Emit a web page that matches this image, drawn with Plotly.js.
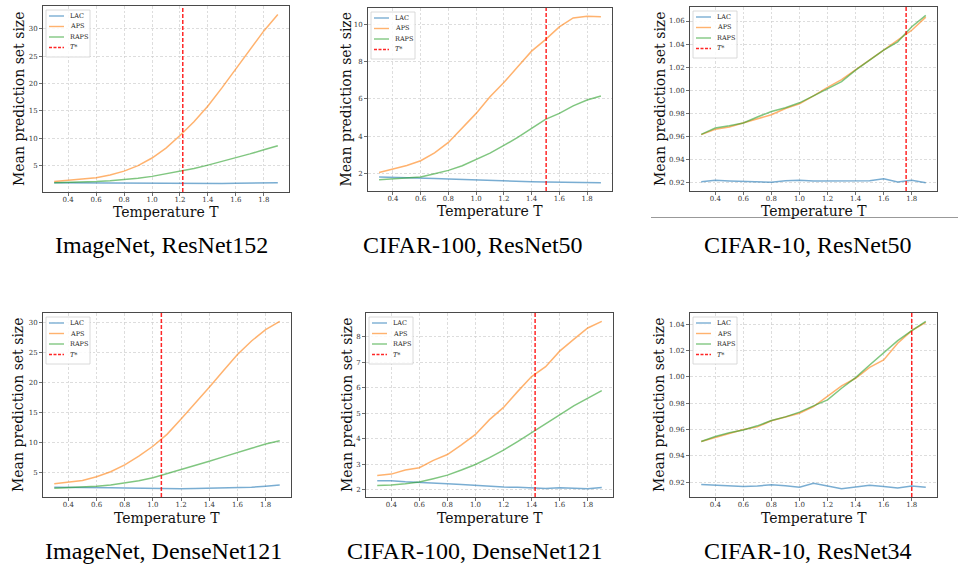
<!DOCTYPE html>
<html><head><meta charset="utf-8">
<script src="https://cdn.plot.ly/plotly-3.0.1.min.js"></script>
<style>html,body{margin:0;padding:0;background:#fff}#chart{width:958px;height:566px}</style>
</head><body><div id="chart"></div>
<script>
// ---------- data ----------
const temperature = [0.3,0.4,0.5,0.6,0.7,0.8,0.9,1.0,1.1,1.2,1.3,1.4,1.5,1.6,1.7,1.8,1.9];
const methodNames = ['LAC','APS','RAPS'];
const tStarLabel = 'T*';
const panelCaptions = ['ImageNet, ResNet152','CIFAR-100, ResNet50','CIFAR-10, ResNet50',
                       'ImageNet, DenseNet121','CIFAR-100, DenseNet121','CIFAR-10, ResNet34'];
const xTickVals = [0.4,0.6,0.8,1.0,1.2,1.4,1.6,1.8];

const lacImageNetResNet152  = [1.90,1.88,1.86,1.84,1.82,1.80,1.78,1.76,1.75,1.74,1.74,1.75,1.76,1.78,1.80,1.83,1.87];
const apsImageNetResNet152  = [2.1,2.3,2.5,2.8,3.3,4.0,5.0,6.4,8.2,10.5,13.0,15.9,19.2,22.7,26.2,29.6,32.6];
const rapsImageNetResNet152 = [1.9,1.95,2.0,2.1,2.25,2.45,2.7,3.05,3.5,3.95,4.5,5.1,5.75,6.45,7.15,7.9,8.65];

const lacCifar100ResNet50  = [1.80,1.79,1.78,1.76,1.73,1.70,1.67,1.64,1.62,1.61,1.56,1.55,1.54,1.53,1.52,1.51,1.50];
const apsCifar100ResNet50  = [2.05,2.22,2.42,2.68,3.10,3.66,4.42,5.22,6.11,6.88,7.72,8.56,9.18,9.86,10.34,10.43,10.41];
const rapsCifar100ResNet50 = [1.66,1.70,1.75,1.80,1.98,2.16,2.41,2.73,3.09,3.50,3.93,4.42,4.90,5.22,5.62,5.94,6.15];

const lacCifar10ResNet50  = [0.9211,0.9223,0.9217,0.9214,0.9206,0.9206,0.9220,0.9223,0.9218,0.9218,0.9218,0.9220,0.9220,0.9237,0.9209,0.9223,0.9203];
const apsCifar10ResNet50  = [0.9618,0.9664,0.9684,0.9718,0.9758,0.9790,0.9844,0.9884,0.9953,1.0027,1.0093,1.0176,1.0262,1.0348,1.0434,1.0520,1.0634];
const rapsCifar10ResNet50 = [0.9620,0.9675,0.9695,0.9718,0.9770,0.9818,0.9850,0.9893,0.9953,1.0013,1.0076,1.0176,1.0262,1.0348,1.0420,1.0551,1.0649];

const lacImageNetDenseNet121  = [2.60,2.60,2.58,2.55,2.50,2.45,2.40,2.38,2.36,2.36,2.38,2.42,2.46,2.52,2.60,2.75,2.95];
const apsImageNetDenseNet121  = [3.18,3.40,3.73,4.34,5.17,6.32,7.76,9.42,11.4,13.94,16.5,19.24,22.0,24.7,26.96,28.84,30.22];
const rapsImageNetDenseNet121 = [2.41,2.48,2.57,2.74,2.96,3.29,3.68,4.17,4.83,5.50,6.21,6.93,7.65,8.42,9.08,9.80,10.35];

const lacCifar100DenseNet121  = [2.35,2.35,2.31,2.29,2.26,2.23,2.20,2.16,2.14,2.10,2.09,2.08,2.05,2.07,2.05,2.04,2.08];
const apsCifar100DenseNet121  = [2.56,2.61,2.77,2.86,3.15,3.38,3.76,4.17,4.75,5.23,5.85,6.44,6.83,7.44,7.90,8.35,8.61];
const rapsCifar100DenseNet121 = [2.16,2.18,2.23,2.30,2.43,2.57,2.77,2.99,3.26,3.55,3.89,4.23,4.58,4.94,5.29,5.58,5.89];

const lacCifar10ResNet34  = [0.9182,0.9177,0.9167,0.9167,0.9170,0.9180,0.9172,0.9160,0.9190,0.9170,0.9150,0.9162,0.9175,0.9167,0.9154,0.9170,0.9160];
const apsCifar10ResNet34  = [0.9509,0.9542,0.9570,0.9600,0.9620,0.9666,0.9694,0.9724,0.9775,0.9851,0.9932,0.9990,1.0073,1.0129,1.0256,1.0352,1.0415];
const rapsCifar10ResNet34 = [0.9509,0.9547,0.9575,0.9597,0.9628,0.9668,0.9696,0.9732,0.9780,0.9825,0.9914,0.9995,1.0091,1.0185,1.0276,1.0352,1.0423];

const tStar = [1.22, 1.505, 1.76, 1.06, 1.425, 1.80];

const panelSeries = [
  [lacImageNetResNet152, apsImageNetResNet152, rapsImageNetResNet152],
  [lacCifar100ResNet50, apsCifar100ResNet50, rapsCifar100ResNet50],
  [lacCifar10ResNet50, apsCifar10ResNet50, rapsCifar10ResNet50],
  [lacImageNetDenseNet121, apsImageNetDenseNet121, rapsImageNetDenseNet121],
  [lacCifar100DenseNet121, apsCifar100DenseNet121, rapsCifar100DenseNet121],
  [lacCifar10ResNet34, apsCifar10ResNet34, rapsCifar10ResNet34]
];

// ---------- layout / style ----------
const W = 958, H = 566;
const boxes = [ // pixel boxes [left,right,top,bottom]
  [43,289,6,192],[368,612,8,191],[690,937,7,191],
  [43,291,313,497],[366,613,313,497],[690,937,313,497]
];
const captionCenters = [[161,245],[473,245],[808,245],[163,551],[475,551],[808,551]];
const yDtick = [5,2,0.02,5,1,0.02];
const yFormat = ['','','.2f','','','.2f'];
const yTitleShift = [-24,-22,-30,-25,-19,-31];
const xTitleShift = [-20,-20,-20,-21,-21,-21];
const colors = ['rgba(31,119,180,0.6)','rgba(255,127,14,0.6)','rgba(44,160,44,0.6)'];
const serif = 'DejaVu Serif, serif';

const traces = [], shapes = [], annotations = [];
const layout = {
  width: W, height: H, margin: {l:0,r:0,t:0,b:0},
  paper_bgcolor: '#fff', plot_bgcolor: '#fff', showlegend: false,
  shapes, annotations
};

function pad(lo, hi){ const d=(hi-lo)*0.05; return [lo-d, hi+d]; }
const xRange = pad(Math.min(...temperature), Math.max(...temperature));

panelSeries.forEach((series, i) => {
  const n = i + 1, sx = n === 1 ? '' : String(n);
  const xa = 'x' + sx, ya = 'y' + sx;
  const b = boxes[i];
  const all = [].concat(...series);
  series.forEach((vals, k) => {
    traces.push({type:'scatter', mode:'lines', x: temperature, y: vals, name: methodNames[k],
      xaxis: xa, yaxis: ya, line: {color: colors[k], width: 1.5}, hoverinfo:'skip'});
  });
  const common = {
    showline:true, mirror:true, linecolor:'#4a4a4a', linewidth:1,
    ticks:'outside', ticklen:3, tickwidth:0.8, tickcolor:'#4a4a4a',
    tickfont:{family:serif, size:7, color:'#333'},
    showgrid:true, gridcolor:'#cfcfcf', griddash:'2.5px,2px', gridwidth:0.7,
    zeroline:false, automargin:false, fixedrange:true
  };
  layout['xaxis' + sx] = Object.assign({}, common, {
    domain:[b[0]/W, b[1]/W], anchor: ya, range: xRange,
    tickvals: xTickVals, tickformat: '.1f', ticklabelstandoff: -2
  });
  layout['yaxis' + sx] = Object.assign({}, common, {
    domain:[1-b[3]/H, 1-b[2]/H], anchor: xa, range: pad(Math.min(...all), Math.max(...all)),
    tick0: 0, dtick: yDtick[i], tickformat: yFormat[i]
  });
  // T* vertical line
  shapes.push({type:'line', xref: xa, yref: ya + ' domain', x0: tStar[i], x1: tStar[i], y0:0, y1:1,
    line:{color:'rgba(255,0,0,0.85)', width:1.5, dash:'4px,2px'}, layer:'above'});
  // axis titles
  annotations.push({xref: xa + ' domain', yref: ya + ' domain', x:0.5, y:0, yshift: xTitleShift[i],
    xanchor:'center', yanchor:'middle', showarrow:false, text:'Temperature T',
    font:{family:serif, size:14, color:'#111'}});
  annotations.push({xref: xa + ' domain', yref: ya + ' domain', x:0, y:0.5, xshift: yTitleShift[i],
    xanchor:'center', yanchor:'middle', showarrow:false, textangle:-90, text:'Mean prediction set size',
    font:{family:serif, size:14, color:'#111'}});
  // caption
  const c = captionCenters[i];
  annotations.push({xref:'paper', yref:'paper', x:c[0]/W, y:1-c[1]/H,
    xanchor:'center', yanchor:'middle', showarrow:false, text: panelCaptions[i],
    font:{family:'Liberation Serif, Times New Roman, serif', size:24, color:'#000'}});
  // compact legend (top-left inset)
  shapes.push({type:'rect', xref: xa + ' domain', yref: ya + ' domain',
    xsizemode:'pixel', ysizemode:'pixel', xanchor:0, yanchor:1,
    x0:3, x1:47, y0:-4, y1:-51, fillcolor:'rgba(255,255,255,0.85)',
    line:{color:'#d0d0d0', width:0.8}, layer:'above'});
  const labels = methodNames.concat([tStarLabel]);
  const itemY = [-10, -20.5, -31, -41.5];
  labels.forEach((lab, k) => {
    const isStar = k === 3;
    shapes.push({type:'line', xref: xa + ' domain', yref: ya + ' domain',
      xsizemode:'pixel', ysizemode:'pixel', xanchor:0, yanchor:1,
      x0:6, x1:21, y0:itemY[k], y1:itemY[k],
      line: isStar ? {color:'rgba(255,0,0,0.85)', width:1.3, dash:'3px,1.5px'}
                   : {color:colors[k], width:1.4}, layer:'above'});
    annotations.push({xref: xa + ' domain', yref: ya + ' domain', x:0, y:1, xshift:25, yshift:itemY[k],
      xanchor:'left', yanchor:'middle', showarrow:false, text: lab,
      font:{family:serif, size:6.5, color:'#222', style: isStar ? 'italic' : 'normal'}});
  });
});

// thin rule under the top-right panel
shapes.push({type:'line', xref:'paper', yref:'paper', x0:651/W, x1:1, y0:1-217.5/H, y1:1-217.5/H,
  line:{color:'#999', width:1}});

Plotly.newPlot('chart', traces, layout, {displayModeBar:false, staticPlot:true});
</script>
</body></html>
